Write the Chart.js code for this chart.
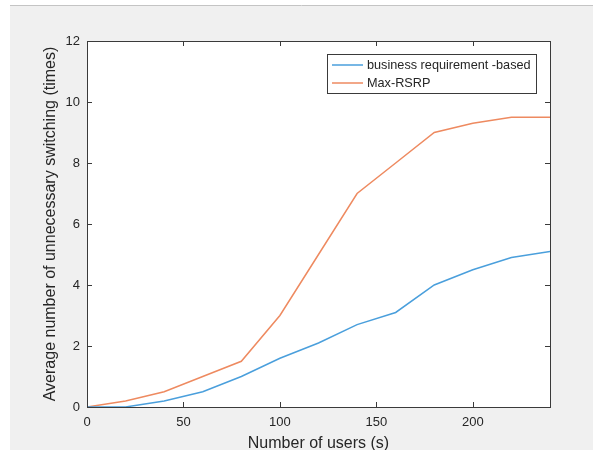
<!DOCTYPE html>
<html>
<head>
<meta charset="utf-8">
<script src="https://cdn.jsdelivr.net/npm/chart.js@4/dist/chart.umd.min.js"></script>
<style>
  html, body { margin: 0; padding: 0; background: #fff; }
  canvas { display: block; }
</style>
</head>
<body>
<canvas id="switchChart" width="593" height="450"></canvas>
<script>
// number of users on the x axis
const users = [0, 20, 40, 60, 80, 100, 120, 140, 160, 180, 200, 220, 240];
// average unnecessary switching (times)
const businessBased = [0, 0, 0.2, 0.5, 1.0, 1.6, 2.1, 2.7, 3.1, 4.0, 4.5, 4.9, 5.1];
const maxRsrp = [0, 0.2, 0.5, 1.0, 1.5, 3.0, 5.0, 7.0, 8.0, 9.0, 9.3, 9.5, 9.5];
const seriesNames = ['business requirement -based', 'Max-RSRP'];
const xTicks = [0, 50, 100, 150, 200];
const yTicks = [0, 2, 4, 6, 8, 10, 12];

const FONT = '"Liberation Sans", Arial, sans-serif';
const AXIS_COLOR = '#3a3a3a';

const toPoints = (vals) => users.map((u, i) => ({ x: u, y: vals[i] }));

// grey figure background like a matlab window
const figureBg = {
  id: 'figureBg',
  beforeDraw(chart) {
    const { ctx, width, height, chartArea: a } = chart;
    ctx.save();
    ctx.fillStyle = '#ffffff';
    ctx.fillRect(0, 0, width, height);
    ctx.fillStyle = '#f0f0f0';
    ctx.fillRect(10, 6, width - 10, height - 6);
    ctx.strokeStyle = '#c4c4c4';
    ctx.lineWidth = 1;
    ctx.beginPath();
    ctx.moveTo(10, 5.5);
    ctx.lineTo(width, 5.5);
    ctx.stroke();
    ctx.fillStyle = '#ffffff';
    ctx.fillRect(a.left, a.top, a.right - a.left, a.bottom - a.top);
    ctx.restore();
  },
};

// box with inward ticks on all four sides
const axesBox = {
  id: 'axesBox',
  afterDraw(chart) {
    const { ctx, chartArea: a, scales } = chart;
    const len = 5;
    ctx.save();
    ctx.strokeStyle = AXIS_COLOR;
    ctx.lineWidth = 1;
    ctx.beginPath();
    xTicks.forEach((v) => {
      const px = Math.round(scales.x.getPixelForValue(v)) + 0.5;
      ctx.moveTo(px, a.bottom);
      ctx.lineTo(px, a.bottom - len);
      ctx.moveTo(px, a.top);
      ctx.lineTo(px, a.top + len);
    });
    yTicks.forEach((v) => {
      const py = Math.round(scales.y.getPixelForValue(v)) + 0.5;
      ctx.moveTo(a.left, py);
      ctx.lineTo(a.left + len, py);
      ctx.moveTo(a.right, py);
      ctx.lineTo(a.right - len, py);
    });
    ctx.stroke();
    ctx.strokeRect(a.left + 0.5, a.top + 0.5, a.right - a.left, a.bottom - a.top);
    ctx.restore();
  },
};

// legend inside the axes, top right
const insideLegend = {
  id: 'insideLegend',
  afterDraw(chart) {
    const { ctx, chartArea: a } = chart;
    const w = 209, h = 39;
    const x0 = a.right - 14 - w, y0 = a.top + 13;
    ctx.save();
    ctx.fillStyle = '#ffffff';
    ctx.fillRect(x0, y0, w, h);
    ctx.strokeStyle = AXIS_COLOR;
    ctx.lineWidth = 1;
    ctx.strokeRect(x0 + 0.5, y0 + 0.5, w, h);
    ctx.font = '12.7px ' + FONT;
    ctx.textBaseline = 'middle';
    ctx.fillStyle = '#262626';
    chart.data.datasets.forEach((ds, i) => {
      const y = y0 + 11 + i * 18;
      ctx.strokeStyle = ds.borderColor;
      ctx.lineWidth = 1.5;
      ctx.beginPath();
      ctx.moveTo(x0 + 5, y);
      ctx.lineTo(x0 + 36, y);
      ctx.stroke();
      ctx.fillText(ds.label, x0 + 40, y);
    });
    ctx.restore();
  },
};

const chart = new Chart(document.getElementById('switchChart'), {
  type: 'line',
  data: {
    datasets: [
      {
        label: seriesNames[0],
        data: toPoints(businessBased),
        borderColor: '#4a9fdc',
        borderWidth: 1.5,
        pointRadius: 0,
        tension: 0,
      },
      {
        label: seriesNames[1],
        data: toPoints(maxRsrp),
        borderColor: '#ee8a60',
        borderWidth: 1.5,
        pointRadius: 0,
        tension: 0,
      },
    ],
  },
  options: {
    responsive: false,
    animation: false,
    layout: { padding: { left: 0, top: 41, right: 43, bottom: 0 } },
    plugins: {
      legend: { display: false },
      tooltip: { enabled: false },
    },
    scales: {
      x: {
        type: 'linear',
        min: 0,
        max: 240,
        afterBuildTicks: (s) => { s.ticks = xTicks.map((v) => ({ value: v })); },
        ticks: { font: { family: FONT, size: 13 }, color: '#262626', padding: 8, maxRotation: 0 },
        grid: { display: false, drawTicks: false },
        border: { display: false },
        title: {
          display: true,
          text: 'Number of users (s)',
          font: { family: FONT, size: 16, lineHeight: 0.75 },
          color: '#262626',
          padding: 0,
        },
        afterFit: (s) => { s.height = 43; },
      },
      y: {
        min: 0,
        max: 12,
        afterBuildTicks: (s) => { s.ticks = yTicks.map((v) => ({ value: v })); },
        ticks: { font: { family: FONT, size: 13 }, color: '#262626', padding: 7 },
        grid: { display: false, drawTicks: false },
        border: { display: false },
        title: {
          display: true,
          text: 'Average number of unnecessary switching (times)',
          font: { family: FONT, size: 16, lineHeight: 1 },
          color: '#262626',
          padding: { top: 43, bottom: 0 },
        },
        afterFit: (s) => { s.width = 87; },
      },
    },
  },
  plugins: [figureBg, axesBox, insideLegend],
});
</script>
</body>
</html>
